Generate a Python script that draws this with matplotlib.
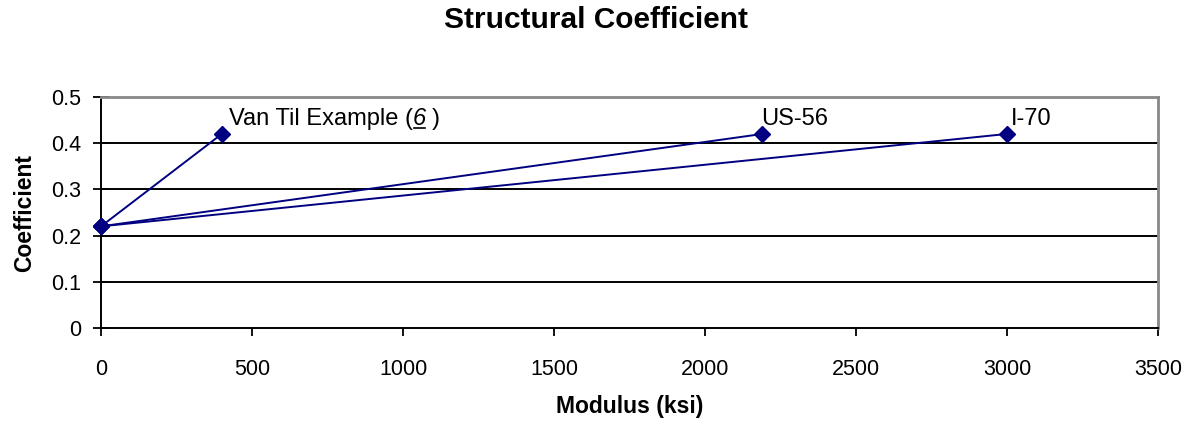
import matplotlib.pyplot as plt
from matplotlib.transforms import offset_copy

plt.rcParams['font.family'] = ['Liberation Sans', 'DejaVu Sans']

# modulus (ksi) vs structural coefficient, each section joined to the base point
base_modulus = 0
base_coef = 0.22
section_names = ['Van Til Example (', 'US-56', 'I-70']
section_modulus = [400, 2190, 3000]
section_coef = [0.42, 0.42, 0.42]

x_ticks = [0, 500, 1000, 1500, 2000, 2500, 3000, 3500]
y_ticks = [0, 0.1, 0.2, 0.3, 0.4, 0.5]

# horizontal nudge of each point label (points)
label_dx = [5, -1, 3]

navy = '#000080'

fig = plt.figure(figsize=(11.91, 4.25), dpi=100)
ax = fig.add_axes([0.0848, 0.2282, 0.8875, 0.5436])

for xm, yc in zip(section_modulus, section_coef):
    ax.plot([base_modulus, xm], [base_coef, yc], color=navy, lw=1.4,
            marker='D', markersize=8, clip_on=False, zorder=3)

ax.set_xlim(0, 3500)
ax.set_ylim(0, 0.5)
ax.set_xticks(x_ticks)
ax.set_yticks(y_ticks)
ax.set_xticklabels([str(v) for v in x_ticks])
ax.set_yticklabels(['0', '0.1', '0.2', '0.3', '0.4', '0.5'])

for y in y_ticks[1:-1]:
    ax.axhline(y, color='black', lw=1.4, zorder=1)

ax.spines['left'].set_color('black')
ax.spines['bottom'].set_color('black')
ax.spines['left'].set_linewidth(1.4)
ax.spines['bottom'].set_linewidth(1.4)
ax.spines['top'].set_color('#888888')
ax.spines['right'].set_color('#888888')
ax.spines['top'].set_linewidth(2)
ax.spines['right'].set_linewidth(2)

ax.tick_params(axis='y', direction='inout', length=11, width=1.3, labelsize=15.5, pad=9)
ax.tick_params(axis='x', direction='out', length=6, width=1.3, labelsize=15.5, pad=16)

ax.set_xlabel('Modulus (ksi)', fontsize=16.5, fontweight='bold', va='center')
ax.set_ylabel('Coefficient', fontsize=16.5, fontweight='bold', va='center')
ax.xaxis.set_label_coords(0.5, -0.338)
ax.yaxis.set_label_coords(-0.072, 0.5)
fig.text(0.5, 0.953, 'Structural Coefficient', fontsize=21.5, fontweight='bold',
         ha='center', va='center')

# point labels
labels = []
for name, xm, yc, dx in zip(section_names, section_modulus, section_coef, label_dx):
    tr = offset_copy(ax.transData, fig=fig, x=dx, y=6.5, units='points')
    t = ax.text(xm, yc, name, transform=tr, fontsize=17, ha='left', va='baseline')
    labels.append(t)

# reference number "6" in italics, underlined, then closing bracket
fig.canvas.draw()
renderer = fig.canvas.get_renderer()
inv = fig.transFigure.inverted()
px0, py0 = labels[0].get_transform().transform((section_modulus[0], section_coef[0]))
bb = labels[0].get_window_extent(renderer)
x0, y0 = inv.transform((bb.x1, py0))
six = fig.text(x0, y0, '6', fontsize=17, style='italic', ha='left', va='baseline')
sb = six.get_window_extent(renderer)
sx0, _ = inv.transform((sb.x0, sb.y0))
sx1, _ = inv.transform((sb.x1, sb.y0))
_, uy = inv.transform((0, py0 - 3))
fig.add_artist(plt.Line2D([sx0 + 0.001, sx1 - 0.001], [uy, uy], color='black', lw=1.2,
                          transform=fig.transFigure))
fig.text(sx1 + 0.005, y0, ')', fontsize=17, ha='left', va='baseline')

fig.savefig('out.png', dpi=100)
